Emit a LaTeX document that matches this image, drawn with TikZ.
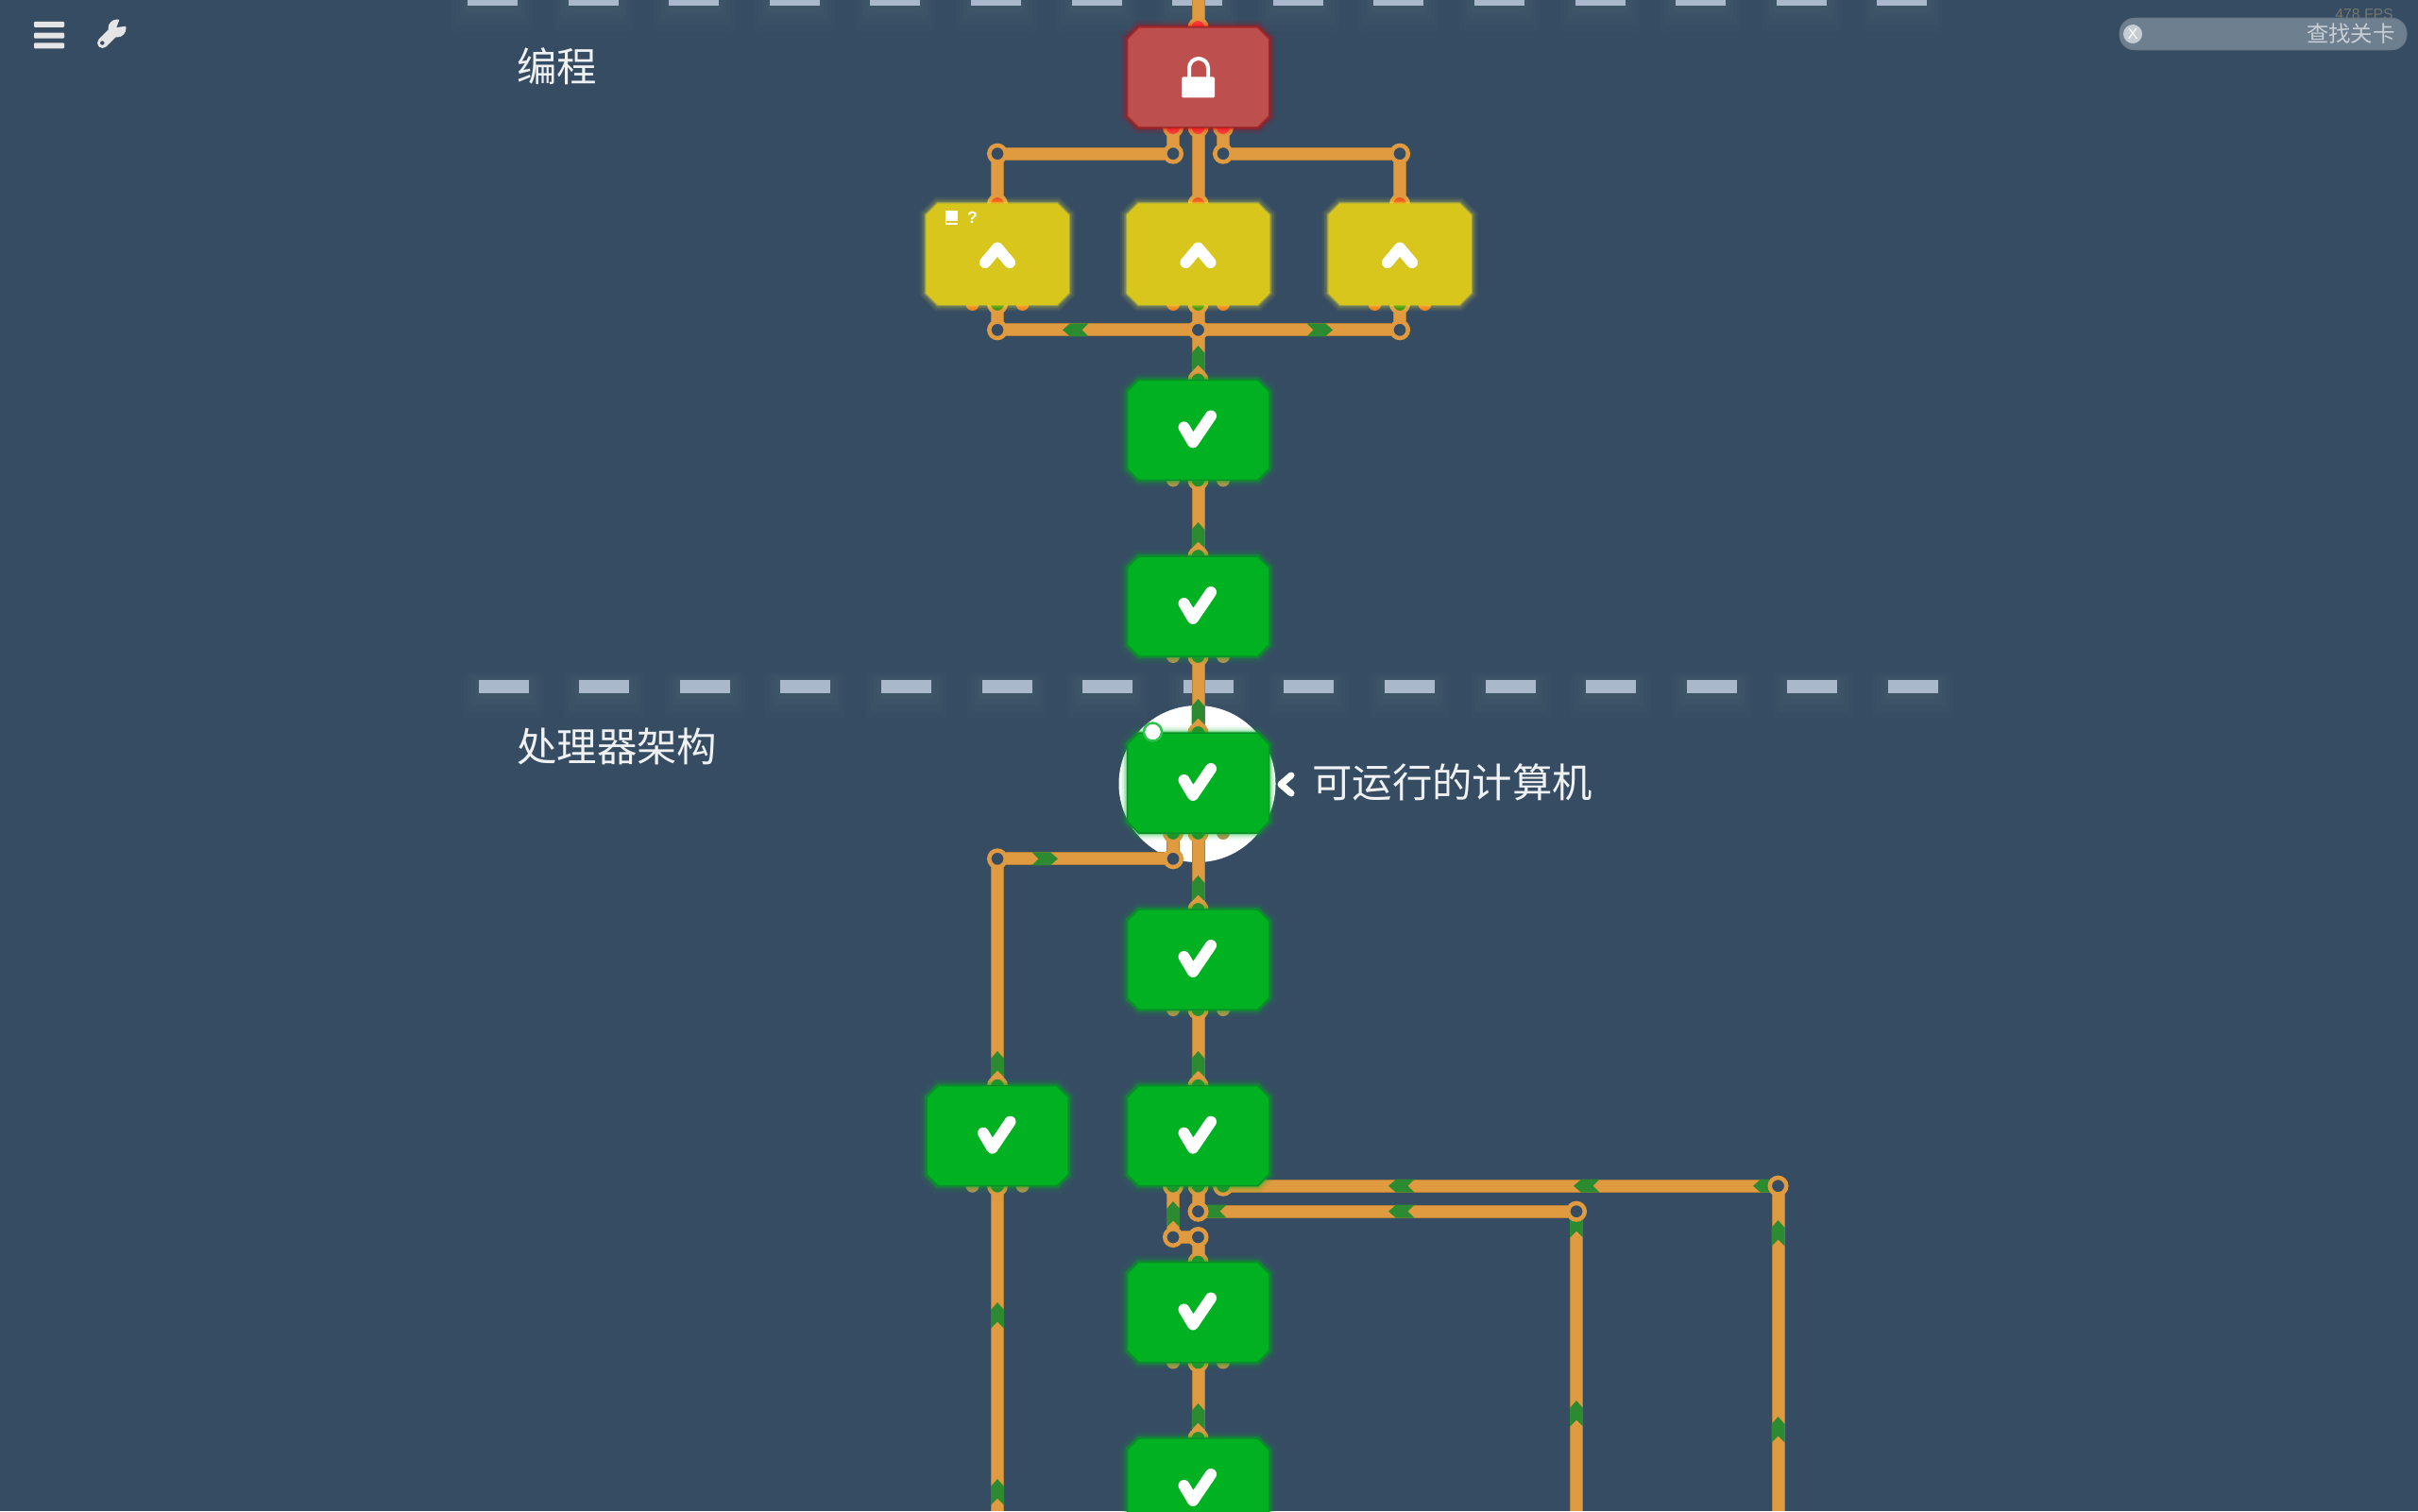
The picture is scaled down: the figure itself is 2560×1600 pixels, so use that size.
\documentclass[tikz,border=0pt]{standalone}
\usepackage{fontspec}
\newfontfamily\cjk{Noto Sans CJK SC}
\setsansfont{Liberation Sans}
\usetikzlibrary{backgrounds,calc}

\def\px{0.03cm}
\definecolor{boardbg}{HTML}{364C63}
\definecolor{wirecol}{HTML}{E09A40}
\definecolor{wireedge}{HTML}{B58238}
\definecolor{packetcol}{HTML}{2C8A30}
\definecolor{okfill}{HTML}{00B222}
\definecolor{okedge}{HTML}{0A8F28}
\definecolor{openfill}{HTML}{D8C61C}
\definecolor{lockfill}{HTML}{BE4F4F}
\definecolor{lockedge}{HTML}{A32A2A}
\definecolor{dashcol}{HTML}{A9B9CB}
\definecolor{fieldcol}{HTML}{6E7F90}

\tikzset{
    glow/.style={line join=round,
        preaction={draw=#1,draw opacity=.06,line width=15*\px},
        preaction={draw=#1,draw opacity=.09,line width=11*\px},
        preaction={draw=#1,draw opacity=.15,line width=7*\px},
        preaction={draw=#1,draw opacity=.3,line width=4*\px}},
    levelbox/.style={shape=rectangle,minimum width=150*\px,minimum height=106*\px,inner sep=0pt,outer sep=0pt},
    okplate/.style={fill=okfill,draw=okedge,line width=1.5*\px,glow=okfill},
    openplate/.style={fill=openfill,draw=openfill,line width=1.5*\px,glow=yellow!80!white},
    lockplate/.style={fill=lockfill,draw=lockedge,line width=1.5*\px,glow=red!85!black},
    joint/.style={shape=circle,draw=wirecol,fill=boardbg,line width=4.5*\px,minimum size=17.5*\px,inner sep=0pt,outer sep=0pt},
    wire/.style={draw=wirecol,line width=12*\px,preaction={draw=wireedge,line width=14*\px}},
    portring/.style={draw=wirecol,line width=4*\px},
    titletext/.style={font=\cjk\fontsize{36.2pt}{40pt}\selectfont,text=white!92!boardbg,anchor=west,inner sep=0pt},
    packet/.pic={\fill[packetcol] (-13.5,-7)--(6,-7)--(14,0)--(6,7)--(-13.5,7)--(-6.5,0)--cycle;},
    tickmark/.pic={\draw[white,line width=12*\px,line join=round,line cap=round] (-15,-3)--(-5.5,13)--(13.5,-15);},
    upmark/.pic={\draw[white,line width=12*\px,line join=round,line cap=round] (-13,9)--(0,-6.5)--(13,9);},
}

\begin{document}
\begin{tikzpicture}[x=0.03cm,y=-0.03cm]
    \useasboundingbox (0,0) rectangle (2560,1600);

    % levels
    \node[levelbox] (r1) at (1268.5,82) {};
    \node[levelbox] (y1) at (1056,269) {};
    \node[levelbox] (y2) at (1268.5,269) {};
    \node[levelbox] (y3) at (1482,269) {};
    \node[levelbox] (g1) at (1268.5,455.4) {};
    \node[levelbox] (g2) at (1268.5,642) {};
    \node[levelbox] (g3) at (1268.5,829) {};
    \node[levelbox] (g4) at (1268.5,1016) {};
    \node[levelbox] (g5) at (1268.5,1202.7) {};
    \node[levelbox] (g6) at (1268.5,1389.5) {};
    \node[levelbox] (g7) at (1056,1202.7) {};
    \node[levelbox] (g8) at (1268.5,1576) {};

    % side ports
    \foreach \n in {r1,y1,y2,y3,g1,g2,g3,g4,g5,g6,g7,g8} {
        \coordinate (\n-l) at ($(\n.south)+(-26.5,0)$);
        \coordinate (\n-r) at ($(\n.south)+(26.5,0)$);
    }

    % junctions
    \node[joint] (ja) at (1056,162.7) {};
    \node[joint] (jb) at (1242,162.7) {};
    \node[joint] (jc) at (1295,162.7) {};
    \node[joint] (jd) at (1482,162.7) {};
    \node[joint] (je) at (1056,349.3) {};
    \node[joint] (jf) at (1268.5,349.3) {};
    \node[joint] (jg) at (1482,349.3) {};
    \node[joint] (jh) at (1242,909.3) {};
    \node[joint] (ji) at (1056,909.3) {};
    \node[joint] (jk) at (1882.5,1255.7) {};
    \node[joint] (jl) at (1268.5,1282.7) {};
    \node[joint] (jm) at (1669,1282.7) {};
    \node[joint] (jn) at (1242,1310) {};
    \node[joint] (jo) at (1268.5,1310) {};

    \coordinate (topend) at (1268.5,0);
    \coordinate (leftend) at (1056,1600);
    \coordinate (midend) at (1669,1600);
    \coordinate (rightend) at (1882.5,1600);

    \begin{pgfonlayer}{background}
        \fill[boardbg] (0,0) rectangle (2560,1600);

        % section lines
        \foreach \k in {0,...,14} {
            \foreach \g in {4,8,12,16} {
                \fill[white,opacity=.012,rounded corners=4*\px] ({495+106.6*\k-\g},{-8-\g*.5}) rectangle ++({53+2*\g},{14+2.2*\g});
                \fill[white,opacity=.012,rounded corners=4*\px] ({506.6+106.6*\k-\g},{720-\g*.5}) rectangle ++({53+2*\g},{13.5+2.2*\g});
            }
            \fill[dashcol] ({495+106.6*\k},-8) rectangle ++(53,14);
            \fill[dashcol] ({506.6+106.6*\k},720) rectangle ++(53,13.5);
        }

        % current level
        \fill[white] (1267.5,830) circle (83);

        % connectors
        \draw[wire] (topend) -- (r1.north);
        \draw[wire] (r1-l) -- (jb);
        \draw[wire] (r1-r) -- (jc);
        \draw[wire] (r1.south) -- (y2.north);
        \draw[wire] (ja) -- (jb);
        \draw[wire] (jc) -- (jd);
        \draw[wire] (ja) -- (y1.north);
        \draw[wire] (jd) -- (y3.north);
        \draw[wire] (y1.south) -- (je);
        \draw[wire] (y2.south) -- (jf);
        \draw[wire] (y3.south) -- (jg);
        \draw[wire] (je) -- (jf);
        \draw[wire] (jf) -- (jg);
        \draw[wire] (jf) -- (g1.north);
        \draw[wire] (g1.south) -- (g2.north);
        \draw[wire] (g2.south) -- (g3.north);
        \draw[wire] (g3.south) -- (g4.north);
        \draw[wire] (g4.south) -- (g5.north);
        \draw[wire] (g3-l) -- (jh);
        \draw[wire] (jh) -- (ji);
        \draw[wire] (ji) -- (g7.north);
        \draw[wire] (g7.south) -- (leftend);
        \draw[wire] (g5-r) -- (jk);
        \draw[wire] (jk) -- (rightend);
        \draw[wire] (g5.south) -- (jl);
        \draw[wire] (jl) -- (jm);
        \draw[wire] (jm) -- (midend);
        \draw[wire] (g5-l) -- (jn);
        \draw[wire] (jn) -- (jo);
        \draw[wire] (jo) -- (g6.north);
        \draw[wire] (g6.south) -- (g8.north);

        % moving bits
        \foreach \py in {380,567,754,941,1127,1500} \pic[rotate=90] at (1268.5,\py) {packet};
        \foreach \py in {1127,1393,1580} \pic[rotate=90] at (1056,\py) {packet};
        \foreach \py in {1297,1497} \pic[rotate=90] at (1669,\py) {packet};
        \foreach \py in {1306,1514} \pic[rotate=90] at (1882.5,\py) {packet};
        \foreach \hx in {1484,1680,1870} \pic[rotate=180] at (\hx,1255.7) {packet};
        \foreach \hx in {1285,1484} \pic[rotate=180] at (\hx,1282.7) {packet};
        \pic[rotate=180] at (1139,349.3) {packet};
        \pic at (1397,349.3) {packet};
        \pic at (1106,909.3) {packet};
        \pic[rotate=90] at (1242,1286) {packet};

        % ports
        \foreach \p in {r1.north,r1-l,r1.south,r1-r}
            \draw[portring,fill=red!75!white] (\p) circle (9);
        \foreach \p in {y1.north,y2.north,y3.north}
            \draw[portring,fill=red!55!wirecol] (\p) circle (9);
        \foreach \p in {y1.south,y2.south,y3.south}
            \draw[portring,fill=green!55!black!80!wirecol] (\p) circle (9);
        \foreach \p in {g1.north,g1.south,g2.north,g2.south,g3.north,g3.south,g3-l,g4.north,g4.south,g5.north,g5.south,g5-l,g5-r,g6.north,g6.south,g7.north,g7.south,g8.north}
            \draw[portring,fill=packetcol] (\p) circle (9);
        \foreach \p in {y1-l,y1-r,y2-l,y2-r,y3-l,y3-r}
            \fill[orange!60!red!40!wirecol] (\p) circle (7);
        \foreach \p in {g1-l,g1-r,g2-l,g2-r,g3-r,g4-l,g4-r,g6-l,g6-r,g7-l,g7-r}
            \fill[wirecol!65!gray] (\p) circle (7);
    \end{pgfonlayer}

    % plates
    \foreach \n/\s in {r1/lockplate,y1/openplate,y2/openplate,y3/openplate,g1/okplate,g2/okplate,g3/okplate,g4/okplate,g5/okplate,g6/okplate,g7/okplate,g8/okplate}
        \path[\s] ($(\n.north west)+(12,0)$) -- ($(\n.north east)+(-12,0)$) -- ($(\n.north east)+(0,12)$)
            -- ($(\n.south east)+(0,-12)$) -- ($(\n.south east)+(-12,0)$) -- ($(\n.south west)+(12,0)$)
            -- ($(\n.south west)+(0,-12)$) -- ($(\n.north west)+(0,12)$) -- cycle;

    % icons on the levels
    \foreach \n in {g1,g2,g3,g4,g5,g6,g7,g8} \pic at (\n) {tickmark};
    \foreach \n in {y1,y2,y3} \pic at (\n) {upmark};
    \draw[white,line width=4*\px] (1259,82) -- (1259,72) arc[start angle=180,end angle=0,x radius=10,y radius=-10] -- (1279,82);
    \fill[white,rounded corners=1.5*\px] (1251,81.5) rectangle (1286,103.5);

    % note on the first choice
    \fill[white] (1000.5,222.7) rectangle (1014.3,238.3);
    \draw[openfill,line width=1.5*\px] (1002,235) -- (1014.3,235);
    \node[inner sep=0pt,text=white] (hint) at (1029.5,230) {\sffamily\fontsize{15pt}{16pt}\selectfont\bfseries ?};

    % current level mark
    \node[shape=circle,fill=white,draw=okfill!80!white,line width=2.5*\px,minimum size=19*\px,inner sep=0pt] (dot) at (1220.5,775) {};
    \draw[white,line width=7*\px,line join=round,line cap=round] (1367,821) -- (1356,830.5) -- (1367,840);
    \node[titletext] (here) at (1389,828) {可运行的计算机};

    % section names
    \node[titletext] (secone) at (547,70) {编程};
    \node[titletext] (sectwo) at (547,790) {处理器架构};

    % toolbar
    \foreach \py in {26,37.7,48.3}
        \fill[white!90!black,rounded corners=1*\px] (36,\py-3) rectangle (68,\py+3);
    \draw[white!90!black,line width=11*\px,line cap=round] (108.5,45.5) -- (122,32);
    \fill[white!90!black] (124,30) circle (9.5);
    \fill[boardbg] (123.5,29) -- (127.5,18) -- (138,27) -- cycle;
    \fill[boardbg] (108.3,45.5) circle (2.2);

    % search field
    \node[shape=rectangle,rounded corners=16*\px,fill=fieldcol,draw=fieldcol!85!boardbg,line width=1*\px,minimum width=304*\px,minimum height=33.7*\px,inner sep=0pt] (searchbox) at (2396,36) {};
    \node[shape=circle,fill=white!60!fieldcol,minimum size=20*\px,inner sep=0pt,text=white] (searchclose) at (2258,36) {\sffamily\fontsize{14pt}{15pt}\selectfont X};
    \node[anchor=east,inner sep=0pt,text=white!62!fieldcol,font=\cjk\fontsize{20pt}{22pt}\selectfont] (searchtext) at (2536,36) {查找关卡};
    \node[anchor=east,inner sep=0pt,text={rgb,255:red,117;green,118;blue,111},font=\sffamily\fontsize{13.5pt}{15pt}\selectfont] (fps) at (2534,15) {478 FPS};
\end{tikzpicture}
\end{document}
